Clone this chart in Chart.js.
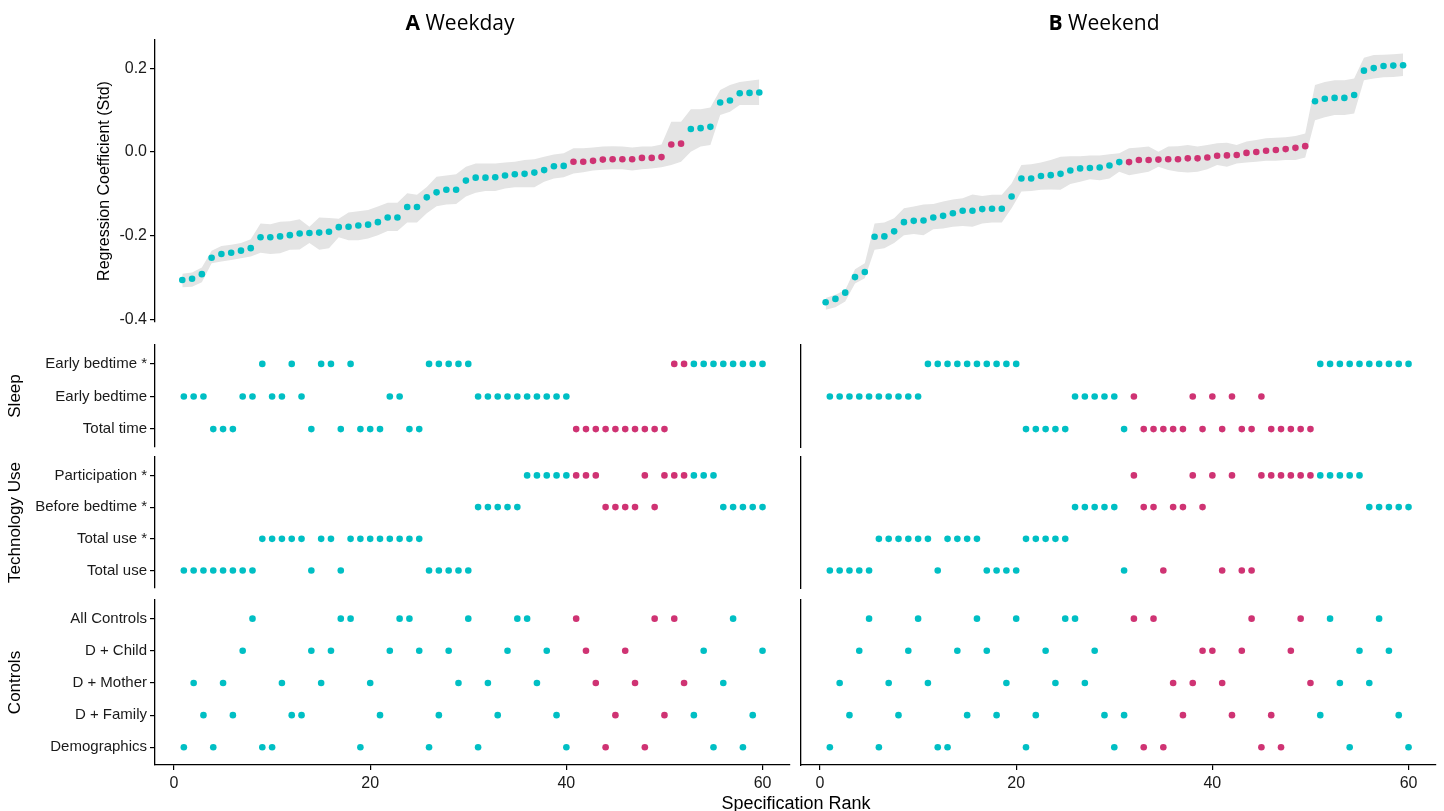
<!DOCTYPE html>
<html>
<head>
<meta charset="utf-8">
<title>Specification curves: weekday and weekend</title>
<script src="https://cdn.jsdelivr.net/npm/chart.js@4.4.1/dist/chart.umd.min.js"></script>
<style>
  body { margin: 0; background: #fff; }
  #fig { position: relative; width: 1444px; height: 811px; overflow: hidden; background: #fff; }
  #fig canvas { position: absolute; left: 0; top: 0; }
  .ttl { position: absolute; top: 0; height: 44px; line-height: 44px; font-family: "Open Sans", sans-serif; font-size: 21px; color: #000; transform: translateX(-50%); white-space: nowrap; }
  #xttl { position: absolute; left: 796px; top: 791px; line-height: 24px; font-family: "Liberation Sans", Arial, sans-serif; font-size: 18px; color: #000; transform: translateX(-50%); white-space: nowrap; }
</style>
</head>
<body>
<div id="fig">
  <canvas id="coefA" width="1444" height="811"></canvas>
  <canvas id="coefB" width="1444" height="811"></canvas>
  <canvas id="sleepA" width="1444" height="811"></canvas>
  <canvas id="techA" width="1444" height="811"></canvas>
  <canvas id="ctrlA" width="1444" height="811"></canvas>
  <canvas id="sleepB" width="1444" height="811"></canvas>
  <canvas id="techB" width="1444" height="811"></canvas>
  <canvas id="ctrlB" width="1444" height="811"></canvas>
  <div class="ttl" style="left:460px"><b>A</b> Weekday</div>
  <div class="ttl" style="left:1104px"><b>B</b> Weekend</div>
  <div id="xttl">Specification Rank</div>
</div>
<script>
// specification ranks (x) and tick labels
const ranks = [1,2,3,4,5,6,7,8,9,10,11,12,13,14,15,16,17,18,19,20,
  21,22,23,24,25,26,27,28,29,30,31,32,33,34,35,36,37,38,39,40,
  41,42,43,44,45,46,47,48,49,50,51,52,53,54,55,56,57,58,59,60];
const xTicks = [0, 20, 40, 60];
const yTicks = [-0.4, -0.2, 0, 0.2];

const sleepLabels = ['Early bedtime *', 'Early bedtime', 'Total time'];
const techLabels = ['Participation *', 'Before bedtime *', 'Total use *', 'Total use'];
const controlLabels = ['All Controls', 'D + Child', 'D + Mother', 'D + Family', 'Demographics'];

// weekday coefficients + CI
const weekdayCoef = [-0.305,-0.302,-0.291,-0.252,-0.243,-0.240,-0.235,-0.229,-0.203,-0.203,
  -0.201,-0.198,-0.194,-0.193,-0.192,-0.190,-0.179,-0.178,-0.175,-0.173,
  -0.167,-0.156,-0.156,-0.131,-0.131,-0.108,-0.096,-0.090,-0.090,-0.068,
  -0.061,-0.061,-0.060,-0.056,-0.053,-0.052,-0.049,-0.043,-0.034,-0.033,
  -0.023,-0.023,-0.021,-0.018,-0.017,-0.017,-0.017,-0.014,-0.014,-0.012,
  0.018,0.020,0.055,0.057,0.060,0.118,0.123,0.140,0.141,0.142];
const weekdayLower = [-0.322,-0.321,-0.310,-0.265,-0.261,-0.257,-0.253,-0.249,-0.240,-0.243,
  -0.241,-0.233,-0.232,-0.217,-0.233,-0.229,-0.203,-0.210,-0.210,-0.206,
  -0.198,-0.188,-0.188,-0.168,-0.168,-0.146,-0.129,-0.125,-0.124,-0.106,
  -0.097,-0.093,-0.093,-0.087,-0.084,-0.084,-0.084,-0.071,-0.063,-0.060,
  -0.051,-0.048,-0.044,-0.042,-0.041,-0.041,-0.044,-0.041,-0.039,-0.036,
  -0.031,-0.023,0.001,0.013,0.017,0.088,0.096,0.112,0.112,0.112];
const weekdayUpper = [-0.290,-0.287,-0.275,-0.235,-0.224,-0.221,-0.217,-0.208,-0.170,-0.172,
  -0.166,-0.165,-0.160,-0.178,-0.156,-0.157,-0.159,-0.144,-0.141,-0.138,
  -0.130,-0.121,-0.121,-0.098,-0.102,-0.083,-0.059,-0.056,-0.053,-0.035,
  -0.027,-0.027,-0.027,-0.025,-0.023,-0.019,-0.017,-0.011,-0.006,-0.003,
  0.009,0.009,0.011,0.013,0.014,0.013,0.011,0.013,0.013,0.018,
  0.072,0.072,0.102,0.102,0.106,0.148,0.160,0.167,0.170,0.173];
const weekdayNonSig = [41,42,43,44,45,46,47,48,49,50,51,52];

// weekend coefficients + CI
const weekendCoef = [-0.358,-0.350,-0.335,-0.298,-0.286,-0.202,-0.201,-0.189,-0.167,-0.164,
  -0.163,-0.156,-0.152,-0.146,-0.140,-0.140,-0.136,-0.135,-0.135,-0.106,
  -0.063,-0.063,-0.057,-0.055,-0.052,-0.044,-0.039,-0.038,-0.037,-0.032,
  -0.024,-0.024,-0.019,-0.019,-0.018,-0.017,-0.017,-0.015,-0.015,-0.013,
  -0.009,-0.008,-0.007,-0.002,0.000,0.003,0.005,0.007,0.010,0.014,
  0.121,0.127,0.129,0.129,0.136,0.194,0.200,0.205,0.206,0.207];
const weekendLower = [-0.376,-0.370,-0.356,-0.313,-0.301,-0.233,-0.229,-0.217,-0.198,-0.195,
  -0.198,-0.184,-0.182,-0.178,-0.176,-0.178,-0.170,-0.168,-0.168,-0.134,
  -0.094,-0.093,-0.090,-0.089,-0.090,-0.076,-0.071,-0.065,-0.067,-0.063,
  -0.047,-0.055,-0.051,-0.047,-0.035,-0.043,-0.047,-0.049,-0.047,-0.041,
  -0.031,-0.035,-0.027,-0.025,-0.023,-0.021,-0.021,-0.019,-0.019,-0.013,
  0.076,0.083,0.088,0.088,0.092,0.171,0.175,0.178,0.179,0.181];
const weekendUpper = [-0.348,-0.340,-0.329,-0.279,-0.265,-0.170,-0.168,-0.158,-0.134,-0.130,
  -0.125,-0.124,-0.118,-0.113,-0.110,-0.101,-0.105,-0.102,-0.102,-0.075,
  -0.031,-0.029,-0.025,-0.019,-0.011,-0.010,-0.010,-0.008,-0.008,-0.005,
  -0.003,0.009,0.011,0.013,0.001,0.013,0.014,0.017,0.013,0.017,
  0.021,0.022,0.017,0.025,0.029,0.033,0.034,0.035,0.038,0.044,
  0.160,0.167,0.171,0.171,0.175,0.225,0.231,0.232,0.233,0.235];
const weekendNonSig = [32,33,34,35,36,37,38,39,40,41,42,43,44,45,46,47,48,49,50];

// which ranks use each specification choice
const weekdaySleep = [
  [9,12,15,16,18,26,27,28,29,30,51,52,53,54,55,56,57,58,59,60],
  [1,2,3,7,8,10,11,13,22,23,31,32,33,34,35,36,37,38,39,40],
  [4,5,6,14,17,19,20,21,24,25,41,42,43,44,45,46,47,48,49,50]
];
const weekdayTech = [
  [36,37,38,39,40,41,42,43,48,50,51,52,53,54,55],
  [31,32,33,34,35,44,45,46,47,49,56,57,58,59,60],
  [9,10,11,12,13,15,16,18,19,20,21,22,23,24,25],
  [1,2,3,4,5,6,7,8,14,17,26,27,28,29,30]
];
const weekdayControls = [
  [8,17,18,23,24,30,35,36,41,49,51,57],
  [7,14,16,22,25,28,34,38,42,46,54,60],
  [2,5,11,15,20,29,32,37,43,47,52,56],
  [3,6,12,13,21,27,33,39,45,50,53,59],
  [1,4,9,10,19,26,31,40,44,48,55,58]
];
const weekendSleep = [
  [11,12,13,14,15,16,17,18,19,20,51,52,53,54,55,56,57,58,59,60],
  [1,2,3,4,5,6,7,8,9,10,26,27,28,29,30,32,38,40,42,45],
  [21,22,23,24,25,31,33,34,35,36,37,39,41,43,44,46,47,48,49,50]
];
const weekendTech = [
  [32,38,40,42,45,46,47,48,49,50,51,52,53,54,55],
  [26,27,28,29,30,33,34,36,37,39,56,57,58,59,60],
  [6,7,8,9,10,11,13,14,15,16,21,22,23,24,25],
  [1,2,3,4,5,12,17,18,19,20,31,35,41,43,44]
];
const weekendControls = [
  [5,10,16,20,25,26,32,34,44,49,52,57],
  [4,9,14,17,23,28,39,40,43,48,55,58],
  [2,7,11,19,24,27,36,38,41,50,53,56],
  [3,8,15,18,22,29,31,37,42,46,51,59],
  [1,6,12,13,21,30,33,35,45,47,54,60]
];

const CYAN = '#00BFC4', PINK = '#CF3373', BAND = '#E4E4E4';
const FONT = '"Liberation Sans", Arial, sans-serif';
const W = 1444, H = 811;

const axisLine = { display: true, color: '#000', width: 1.3 };
const tickMarks = { display: true, drawOnChartArea: false, drawTicks: true, tickLength: 5, color: '#000', lineWidth: 1.2 };
const noTicks = { display: false };

function colourOf(nonSig) {
  return r => nonSig.includes(r) ? PINK : CYAN;
}

function baseOpts(area, yW, xH) {
  return {
    responsive: false,
    animation: false,
    events: [],
    devicePixelRatio: 1,
    layout: { autoPadding: false, padding: { left: area.l - yW, top: area.t, right: W - area.r, bottom: H - area.b - xH } },
    plugins: { legend: { display: false }, tooltip: { enabled: false } }
  };
}

function coefChart(id, coef, lower, upper, nonSig, area, xr, withAxis) {
  const colour = colourOf(nonSig);
  const yW = withAxis ? area.l - 95.4 : 0;
  const opts = baseOpts(area, yW, 0);
  opts.scales = {
    x: { type: 'linear', min: xr[0], max: xr[1], display: false },
    y: {
      type: 'linear', min: -0.405, max: 0.267, display: withAxis,
      afterBuildTicks: s => { s.ticks = yTicks.map(v => ({ value: v })); },
      afterFit: s => { s.width = yW; },
      ticks: { callback: v => v.toFixed(1), font: { family: FONT, size: 16 }, color: '#1a1a1a', padding: 3 },
      grid: tickMarks, border: axisLine,
      title: { display: true, text: 'Regression Coefficient (Std)', font: { family: FONT, size: 16 }, color: '#000', padding: 0 }
    }
  };
  new Chart(document.getElementById(id), {
    type: 'line',
    data: {
      datasets: [
        { data: ranks.map((r, i) => ({ x: r, y: coef[i] })), showLine: false, pointRadius: 3.3,
          pointBorderWidth: 0, pointBorderColor: 'rgba(0,0,0,0)', pointBackgroundColor: ranks.map(colour) },
        { data: ranks.map((r, i) => ({ x: r, y: lower[i] })), borderColor: 'rgba(0,0,0,0)', pointRadius: 0, fill: false, tension: 0 },
        { data: ranks.map((r, i) => ({ x: r, y: upper[i] })), borderColor: 'rgba(0,0,0,0)', pointRadius: 0, fill: '-1',
          backgroundColor: BAND, tension: 0 }
      ]
    },
    options: opts
  });
}

function specChart(id, labels, rows, nonSig, area, leftSide, groupTitle, showX) {
  const colour = colourOf(nonSig);
  const pts = [];
  rows.forEach((row, i) => row.forEach(r => pts.push({ x: r, y: i })));
  const yW = leftSide ? area.l - 4.8 : 0;
  const xH = showX ? 30 : 0;
  const opts = baseOpts(area, yW, xH);
  opts.scales = {
    x: {
      type: 'linear', min: -1.94, max: 62.8, display: showX,
      afterBuildTicks: s => { s.ticks = xTicks.map(v => ({ value: v })); },
      afterFit: s => { s.height = xH; },
      ticks: { font: { family: FONT, size: 16 }, color: '#1a1a1a', padding: 4 },
      grid: tickMarks, border: axisLine
    },
    y: {
      type: 'linear', reverse: true, min: -0.58, max: labels.length - 0.45,
      afterBuildTicks: s => { s.ticks = labels.map((_, i) => ({ value: i })); },
      afterFit: s => { s.width = yW; },
      ticks: { display: leftSide, autoSkip: false, callback: v => labels[v], font: { family: FONT, size: 15 }, color: '#1a1a1a', padding: 3 },
      grid: leftSide ? tickMarks : noTicks,
      border: axisLine,
      title: { display: leftSide, text: groupTitle, font: { family: FONT, size: 17 }, color: '#000', padding: 0 }
    }
  };
  new Chart(document.getElementById(id), {
    type: 'scatter',
    data: {
      datasets: [{ data: pts, pointRadius: 3.3, pointBorderWidth: 0, pointBorderColor: 'rgba(0,0,0,0)',
        pointBackgroundColor: pts.map(p => colour(p.x)) }]
    },
    options: opts
  });
}

// top panels
coefChart('coefA', weekdayCoef, weekdayLower, weekdayUpper, weekdayNonSig,
  { l: 155, r: 790, t: 40, b: 322 }, [-1.79, 63.14], true);
coefChart('coefB', weekendCoef, weekendLower, weekendUpper, weekendNonSig,
  { l: 800, r: 1435, t: 40, b: 322 }, [-1.62, 63.26], false);

// specification panels
specChart('sleepA', sleepLabels, weekdaySleep, weekdayNonSig, { l: 155, r: 790, t: 345, b: 447 }, true, 'Sleep', false);
specChart('techA', techLabels, weekdayTech, weekdayNonSig, { l: 155, r: 790, t: 457, b: 588 }, true, 'Technology Use', false);
specChart('ctrlA', controlLabels, weekdayControls, weekdayNonSig, { l: 155, r: 790, t: 600, b: 765 }, true, 'Controls', true);
specChart('sleepB', sleepLabels, weekendSleep, weekendNonSig, { l: 801, r: 1436, t: 345, b: 447 }, false, '', false);
specChart('techB', techLabels, weekendTech, weekendNonSig, { l: 801, r: 1436, t: 457, b: 588 }, false, '', false);
specChart('ctrlB', controlLabels, weekendControls, weekendNonSig, { l: 801, r: 1436, t: 600, b: 765 }, false, '', true);
</script>
</body>
</html>
